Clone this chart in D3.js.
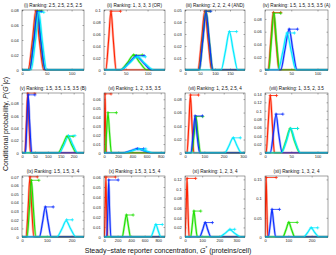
<!DOCTYPE html>
<html>
<head>
<meta charset="utf-8">
<script src="https://cdn.jsdelivr.net/npm/d3@7"></script>
<style>
body{margin:0;background:#fff}
svg{display:block;font-family:"Liberation Sans",Arial,sans-serif}
</style>
</head>
<body>
<script>
/////////////////////////////////////
///      DATA
/////////////////////////////////////
var titles = [
  "(i) Ranking: 2.5, 2.5, 2.5, 2.5",
  "(ii) Ranking: 1, 3, 3, 3 (OR)",
  "(iii) Ranking: 2, 2, 2, 4 (AND)",
  "(iv) Ranking: 1.5, 1.5, 3.5, 3.5 (A)",
  "(v) Ranking: 1.5, 3.5, 1.5, 3.5 (B)",
  "(vi) Ranking: 1, 2, 3.5, 3.5",
  "(vii) Ranking: 1, 2.5, 2.5, 4",
  "(viii) Ranking: 1, 3.5, 2, 3.5",
  "(ix) Ranking: 1.5, 1.5, 3, 4",
  "(x) Ranking: 1.5, 3, 1.5, 4",
  "(xi) Ranking: 1, 2, 3, 4",
  "(xii) Ranking: 1, 3, 2, 4"
];

var xDomains = [[0,125],[0,140],[0,200],[0,120],[0,240],[0,860],
                [0,310],[0,120],[0,250],[0,900],[0,350],[0,270]];
var yDomains = [[0,0.08],[0,0.1],[0,0.05],[0,0.094],[0,0.097],[0,0.067],
                [0,0.089],[0,0.142],[0,0.071],[0,0.061],[0,0.127],[0,0.159]];

var xTicks = [[0,50,100],[0,50,100],[0,50,100,150],[0,50,100],
              [0,50,100,150,200],[0,200,400,600,800],[0,100,200,300],[0,50,100],
              [0,100,200],[0,200,400,600,800],[0,100,200,300],[0,100,200]];
var yTicks = [[0,0.02,0.04,0.06,0.08],
              [0,0.02,0.04,0.06,0.08,0.1],
              [0,0.01,0.02,0.03,0.04,0.05],
              [0,0.02,0.04,0.06,0.08],
              [0,0.02,0.04,0.06,0.08],
              [0,0.01,0.02,0.03,0.04,0.05,0.06],
              [0,0.02,0.04,0.06,0.08],
              [0,0.02,0.04,0.06,0.08,0.1,0.12,0.14],
              [0,0.01,0.02,0.03,0.04,0.05,0.06,0.07],
              [0,0.01,0.02,0.03,0.04,0.05,0.06],
              [0,0.02,0.04,0.06,0.08,0.1,0.12],
              [0,0.05,0.1,0.15]];

// distribution curves, [G*, P] points
var redCurves = [
  [[12,0],[21,0.0395],[28,0.079],[35,0.0395],[44,0]],
  [[4,0],[10.5,0.049],[16,0.098],[21.5,0.049],[28,0]],
  [[43,0],[55,0.0245],[66,0.049],[77,0.0245],[89,0]],
  [[6,0],[11,0.045],[16,0.09],[21,0.045],[27,0]],
  [[11,0],[17,0.0485],[22,0.097],[27,0.0485],[33,0]],
  [[0,0],[8,0.033],[15,0.066],[22,0.033],[32,0]],
  [[10,0],[20,0.043],[28,0.086],[36,0.043],[46,0]],
  [[2,0],[6,0.068],[10,0.136],[14,0.068],[18,0]],
  [[16,0],[25,0.035],[32,0.07],[39,0.035],[48,0]],
  [[5,0],[18,0.03],[28,0.06],[38,0.03],[55,0]],
  [[0,0],[7,0.061],[12,0.122],[17,0.061],[24,0]],
  [[0,0],[2,0.0775],[5,0.155],[8,0.0775],[12,0]]
];
var greenCurves = [
  [[15,0],[24,0.0395],[31,0.079],[38,0.0395],[47,0]],
  [[37,0],[54,0.0125],[68,0.025],[82,0.0125],[99,0]],
  [[47,0],[59,0.0245],[70,0.049],[81,0.0245],[93,0]],
  [[7,0],[12,0.0445],[17,0.089],[22,0.0445],[28,0]],
  [[139,0],[158,0.0135],[175,0.027],[192,0.0135],[211,0]],
  [[15,0],[36,0.0225],[56,0.045],[78,0.0225],[105,0]],
  [[34,0],[47,0.027],[57,0.054],[67,0.027],[81,0]],
  [[30,0],[40,0.029],[48,0.058],[56,0.029],[67,0]],
  [[20,0],[30,0.033],[38,0.066],[46,0.033],[56,0]],
  [[268,0],[300,0.011],[330,0.022],[360,0.011],[392,0]],
  [[33,0],[43,0.027],[52,0.054],[61,0.027],[72,0]],
  [[76,0],[90,0.019],[102,0.038],[114,0.019],[128,0]]
];
var blueCurves = [
  [[15,0],[24,0.039],[31,0.078],[38,0.039],[47,0]],
  [[38,0],[57,0.0115],[74,0.023],[91,0.0115],[110,0]],
  [[47,0],[59,0.024],[70,0.048],[81,0.024],[93,0]],
  [[30,0],[38,0.032],[46,0.064],[53,0.032],[61,0]],
  [[13,0],[19,0.047],[24,0.094],[30,0.047],[38,0]],
  [[260,0],[375,0.0024],[470,0.0048],[565,0.0024],[680,0]],
  [[30,0],[42,0.0275],[52,0.055],[62,0.0275],[76,0]],
  [[10,0],[16,0.046],[21,0.092],[26,0.046],[33,0]],
  [[70,0],[83,0.0175],[94,0.035],[105,0.0175],[118,0]],
  [[38,0],[58,0.0285],[70,0.057],[82,0.0285],[102,0]],
  [[85,0],[103,0.015],[118,0.03],[133,0.015],[152,0]],
  [[14,0],[23,0.036],[30,0.072],[37,0.036],[46,0]]
];
var cyanCurves = [
  [[18,0],[27,0.0385],[34,0.077],[41,0.0385],[50,0]],
  [[37,0],[58,0.011],[76,0.022],[94,0.011],[115,0]],
  [[120,0],[135,0.016],[148,0.032],[161,0.016],[176,0]],
  [[25,0],[34,0.029],[42,0.058],[50,0.029],[59,0]],
  [[144,0],[163,0.0135],[180,0.027],[197,0.0135],[216,0]],
  [[270,0],[390,0.00225],[490,0.0045],[590,0.00225],[710,0]],
  [[204,0],[228,0.01125],[248,0.0225],[268,0.01125],[292,0]],
  [[31,0],[41,0.029],[49,0.058],[57,0.029],[68,0]],
  [[140,0],[161,0.0095],[178,0.019],[196,0.0095],[218,0]],
  [[690,0],[730,0.00625],[765,0.0125],[800,0.00625],[840,0]],
  [[200,0],[233,0.0075],[262,0.015],[291,0.0075],[326,0]],
  [[165,0],[183,0.012],[198,0.024],[213,0.012],[232,0]]
];

// horizontal error bars: [from, to, height]
var redBars = [[28,36,0.079],[16,38,0.098],[66,80,0.049],[16,30,0.09],[22,50,0.097],[15,100,0.066],
               [28,70,0.086],[10,22,0.136],[32,62,0.07],[28,170,0.06],[12,62,0.122],[5,48,0.155]];
var greenBars = [[31,40,0.079],[68,88,0.025],[70,84,0.049],[17,30,0.089],[175,198,0.027],[56,175,0.045],
                 [57,92,0.054],[48,62,0.058],[38,68,0.066],[330,430,0.022],[52,92,0.054],[102,138,0.038]];
var blueBars = [[31,39,0.078],[74,92,0.024],[70,86,0.049],[46,62,0.064],[24,50,0.094],[470,560,0.0048],
                [52,90,0.055],[21,34,0.092],[94,126,0.035],[70,210,0.057],[118,160,0.03],[30,62,0.072]];
var cyanBars = [[34,44,0.077],[76,95,0.022],[148,172,0.032],[42,56,0.058],[180,205,0.028],[490,590,0.0045],
                [250,286,0.0225],[49,62,0.058],[180,203,0.02],[765,860,0.0125],[262,290,0.016],[198,226,0.024]];

/////////////////////////////////////
///      LAYOUT
/////////////////////////////////////
var W = 336, H = 255;
var colX = [[22,84],[104,165],[185,245],[265,328]];
var rowY = [[10,70],[93,153],[176,237]];
var colours = ["#ff2200","#1ee000","#0a2cff","#00eaff"];
var curveSets = [redCurves, greenCurves, blueCurves, cyanCurves];
var barSets = [redBars, greenBars, blueBars, cyanBars];
var fmt = d3.format("~g");

var svg = d3.select("body").append("svg")
  .attr("width", W)
  .attr("height", H);

function drawPanel(i){
  var c = i % 4, r = Math.floor(i / 4);
  var x = d3.scaleLinear().domain(xDomains[i]).range(colX[c]);
  var y = d3.scaleLinear().domain(yDomains[i]).range([rowY[r][1], rowY[r][0]]);
  var g = svg.append("g");

  g.append("clipPath").attr("id", "clip" + i)
    .append("rect")
      .attr("x", colX[c][0])
      .attr("y", rowY[r][0] - 0.5)
      .attr("width", colX[c][1] - colX[c][0])
      .attr("height", rowY[r][1] - rowY[r][0] + 1);

  // axes, ticks pointing inward like matlab
  var bottom = g.append("g").attr("transform", "translate(0," + rowY[r][1] + ")")
    .call(d3.axisBottom(x).tickValues(xTicks[i]).tickSize(-1.5).tickPadding(2.3).tickFormat(fmt));
  var left = g.append("g").attr("transform", "translate(" + colX[c][0] + ",0)")
    .call(d3.axisLeft(y).tickValues(yTicks[i]).tickSize(-1.5).tickPadding(3.2).tickFormat(fmt));
  var top = g.append("g").attr("transform", "translate(0," + rowY[r][0] + ")")
    .call(d3.axisTop(x).tickValues(xTicks[i]).tickSize(-1.5).tickFormat(""));
  var right = g.append("g").attr("transform", "translate(" + colX[c][1] + ",0)")
    .call(d3.axisRight(y).tickValues(yTicks[i]).tickSize(-1.5).tickFormat(""));
  [bottom, left, top, right].forEach(function(a){
    a.attr("font-size", 4).attr("font-family", null);
    a.select(".domain").remove();
    a.selectAll("line").attr("stroke", "#333").attr("stroke-width", 0.4);
    a.selectAll("text").attr("fill", "#222");
  });

  var plot = g.append("g").attr("clip-path", "url(#clip" + i + ")");
  var line = d3.line()
    .x(function(d){ return x(d[0]); })
    .y(function(d){ return y(d[1]); })
    .curve(d3.curveMonotoneX);

  curveSets.forEach(function(set, k){
    var pts = set[i].slice();
    if (pts[0][0] > xDomains[i][0]) pts.unshift([xDomains[i][0], 0]);
    if (pts[pts.length-1][0] < xDomains[i][1]) pts.push([xDomains[i][1], 0]);
    plot.append("path").datum(pts)
      .attr("d", line)
      .attr("fill", "none")
      .attr("stroke", colours[k])
      .attr("stroke-opacity", 0.35)
      .attr("stroke-width", 2.4);
    plot.append("path").datum(pts)
      .attr("d", line)
      .attr("fill", "none")
      .attr("stroke", colours[k])
      .attr("stroke-width", 1.1);
  });

  barSets.forEach(function(set, k){
    var b = set[i];
    var yy = y(b[2]);
    plot.append("line")
      .attr("x1", x(b[0])).attr("x2", x(b[1]))
      .attr("y1", yy).attr("y2", yy)
      .attr("stroke", colours[k]).attr("stroke-width", 0.8);
    [b[0], b[1]].forEach(function(v){
      plot.append("path")
        .attr("d", "M" + (x(v) - 1.6) + "," + yy + "h3.2M" + x(v) + "," + (yy - 1.6) + "v3.2")
        .attr("stroke", colours[k]).attr("stroke-width", 0.7);
    });
  });

  // box
  g.append("rect")
    .attr("x", colX[c][0]).attr("y", rowY[r][0])
    .attr("width", colX[c][1] - colX[c][0])
    .attr("height", rowY[r][1] - rowY[r][0])
    .attr("fill", "none")
    .attr("stroke", "#444")
    .attr("stroke-width", 0.5);

  g.append("text")
    .attr("x", (colX[c][0] + colX[c][1]) / 2)
    .attr("y", rowY[r][0] - 3)
    .attr("text-anchor", "middle")
    .attr("font-size", 4.6)
    .attr("fill", "#111")
    .text(titles[i]);
}

titles.forEach(function(t, i){ drawPanel(i); });

// axis labels
var xl = svg.append("text")
  .attr("x", 168)
  .attr("y", 252.5)
  .attr("text-anchor", "middle")
  .attr("font-size", 7)
  .attr("fill", "#111");
xl.append("tspan").text("Steady\u2212state reporter concentration, ");
xl.append("tspan").attr("font-style", "italic").text("G");
xl.append("tspan").attr("font-size", 4.5).attr("dy", -2.8).text("*");
xl.append("tspan").attr("dy", 2.8).text(" (proteins/cell)");

var yl = svg.append("text")
  .attr("transform", "translate(7.5,124) rotate(-90)")
  .attr("text-anchor", "middle")
  .attr("font-size", 7)
  .attr("fill", "#111");
yl.append("tspan").text("Conditional probability, ");
yl.append("tspan").attr("font-style", "italic").text("P");
yl.append("tspan").text("(");
yl.append("tspan").attr("font-style", "italic").text("G");
yl.append("tspan").attr("font-size", 4.5).attr("dy", -2.8).text("*");
yl.append("tspan").attr("dy", 2.8).text("|");
yl.append("tspan").attr("font-style", "italic").text("c");
yl.append("tspan").text(")");
</script>
</body>
</html>
